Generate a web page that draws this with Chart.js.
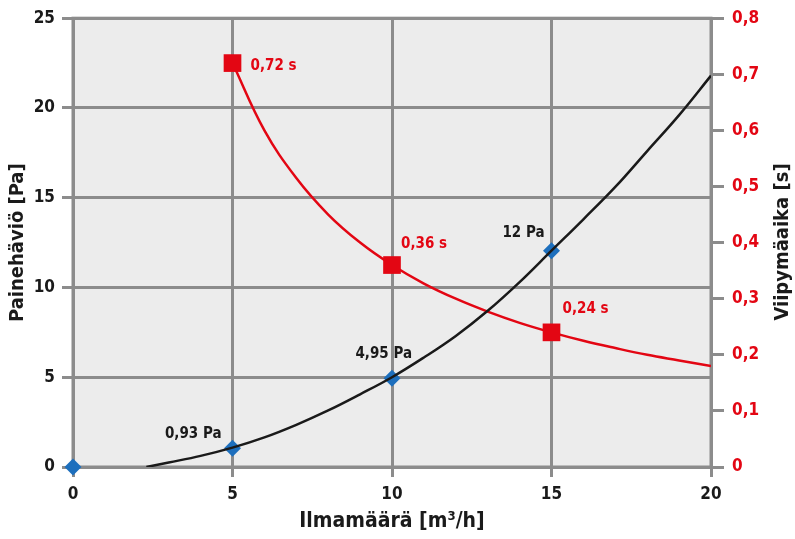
<!DOCTYPE html>
<html>
<head>
<meta charset="utf-8">
<script src="https://cdn.jsdelivr.net/npm/chart.js@4"></script>
<style>
  html, body { margin: 0; padding: 0; background: #fff; }
  #wrap { width: 795px; height: 539px; }
</style>
</head>
<body>
<div id="wrap"><canvas id="kaavio" width="795" height="539"></canvas></div>
<script>
// mitatut pisteet
const ilmaPisteet = [0, 5, 10, 15];
const paineArvot = [0, 1.05, 4.95, 12.05];
const paineTekstit = ['', '0,93 Pa', '4,95 Pa', '12 Pa'];

const aikaPisteet = [5, 10, 15];
const aikaArvot = [0.72, 0.36, 0.24];
const aikaTekstit = ['0,72 s', '0,36 s', '0,24 s'];

// trendikäyrät kuvasta luettuna
const paineKayraX = [2.3, 3, 4, 5, 6, 7, 8, 9, 10, 11, 12, 13, 14, 15, 16, 17, 18, 19, 20];
const paineKayraY = [0, 0.25, 0.62, 1.08, 1.65, 2.35, 3.15, 4.05, 5.0, 6.1, 7.3, 8.7, 10.3, 12.05, 13.8, 15.6, 17.6, 19.6, 21.8];
const aikaKayraX = [5, 6, 7, 8, 9, 10, 11, 12, 13, 14, 15, 16, 17, 18, 19, 20];
const aikaKayraY = [0.72, 0.6, 0.515, 0.45, 0.4, 0.36, 0.327, 0.3, 0.277, 0.257, 0.24, 0.225, 0.212, 0.2, 0.19, 0.18];

const xTicks = [0, 5, 10, 15, 20];

const PUNAINEN = '#e30613';
const SININEN = '#1d6fbd';
const MUSTA = '#1a1a1a';
const HARMAA = '#8c8c8c';
const FONTTI = "'Liberation Sans Narrow', 'DejaVu Sans Condensed', 'Roboto', sans-serif";

function pareiksi(xs, ys) {
    return xs.map((x, i) => ({ x: x, y: ys[i] }));
}

const taustaPlugin = {
    id: 'tausta',
    beforeDraw(chart) {
        const { ctx, chartArea: a } = chart;
        ctx.save();
        ctx.fillStyle = '#ececec';
        ctx.fillRect(a.left, a.top, a.right - a.left, a.bottom - a.top);
        ctx.restore();
    },
    beforeDatasetsDraw(chart) {
        const { ctx, chartArea: a } = chart;
        ctx.save();
        ctx.strokeStyle = HARMAA;
        ctx.lineWidth = 3;
        ctx.strokeRect(a.left, a.top, a.right - a.left, a.bottom - a.top);
        ctx.restore();
    },
    afterDraw(chart) {
        const ctx = chart.ctx;
        // oikean akselin otsikko, luetaan alhaalta ylös
        ctx.save();
        ctx.translate(783, 242);
        ctx.rotate(-Math.PI / 2);
        ctx.fillStyle = MUSTA;
        ctx.font = "bold 20px " + FONTTI;
        ctx.textAlign = 'center';
        ctx.textBaseline = 'middle';
        ctx.fillText('Viipymäaika [s]', 0, 0);
        ctx.restore();

        // arvojen tekstit
        const siirrotP = [[0, 0], [-11, -14], [20, -24], [-7, -18]];
        const metaP = chart.getDatasetMeta(1);
        ctx.save();
        ctx.font = "bold 15px " + FONTTI;
        ctx.fillStyle = MUSTA;
        ctx.textAlign = 'right';
        ctx.textBaseline = 'middle';
        metaP.data.forEach((p, i) => {
            if (paineTekstit[i]) ctx.fillText(paineTekstit[i], p.x + siirrotP[i][0], p.y + siirrotP[i][1]);
        });
        const siirrotA = [[18, 3], [9, -21], [11, -23]];
        const metaA = chart.getDatasetMeta(2);
        ctx.fillStyle = PUNAINEN;
        ctx.textAlign = 'left';
        metaA.data.forEach((p, i) => {
            ctx.fillText(aikaTekstit[i], p.x + siirrotA[i][0], p.y + siirrotA[i][1]);
        });
        ctx.restore();
    }
};

const ctxKaavio = document.getElementById('kaavio').getContext('2d');
const kaavio = new Chart(ctxKaavio, {
    type: 'scatter',
    data: {
        datasets: [{
            label: 'Painehäviö käyrä',
            data: pareiksi(paineKayraX, paineKayraY),
            showLine: true,
            borderColor: MUSTA,
            borderWidth: 2.5,
            pointRadius: 0,
            tension: 0.4,
            yAxisID: 'y',
            order: 0
        }, {
            label: 'Painehäviö',
            data: pareiksi(ilmaPisteet, paineArvot),
            showLine: false,
            pointStyle: 'rectRot',
            pointRadius: 8.5,
            backgroundColor: SININEN,
            borderColor: SININEN,
            borderWidth: 0,
            clip: false,
            yAxisID: 'y',
            order: 1
        }, {
            label: 'Viipymäaika',
            data: pareiksi(aikaPisteet, aikaArvot),
            showLine: false,
            pointStyle: 'rect',
            pointRadius: 12.5,
            backgroundColor: PUNAINEN,
            borderColor: PUNAINEN,
            borderWidth: 0,
            clip: false,
            yAxisID: 'y2',
            order: 2
        }, {
            label: 'Viipymäaika käyrä',
            data: pareiksi(aikaKayraX, aikaKayraY),
            showLine: true,
            borderColor: PUNAINEN,
            borderWidth: 2.5,
            pointRadius: 0,
            tension: 0.4,
            yAxisID: 'y2',
            order: 3
        }]
    },
    options: {
        responsive: false,
        animation: false,
        devicePixelRatio: 1,
        layout: { padding: { top: 17, left: 0, right: 0, bottom: 0 } },
        scales: {
            x: {
                type: 'linear',
                min: 0,
                max: 20,
                afterBuildTicks: (s) => { s.ticks = xTicks.map(v => ({ value: v })); },
                afterFit: (s) => { s.height = 72; },
                grid: { color: HARMAA, lineWidth: 3, tickLength: 10, tickColor: HARMAA },
                border: { display: false },
                ticks: {
                    color: MUSTA,
                    padding: 7,
                    font: { family: FONTTI, size: 17, weight: 'bold' }
                },
                title: {
                    display: true,
                    text: 'Ilmamäärä [m³/h]',
                    color: MUSTA,
                    padding: { top: 0, bottom: 5 },
                    font: { family: FONTTI, size: 21, weight: 'bold' }
                }
            },
            y: {
                position: 'left',
                min: 0,
                max: 25,
                ticks: {
                    stepSize: 5,
                    color: MUSTA,
                    padding: 7,
                    font: { family: FONTTI, size: 17, weight: 'bold' }
                },
                afterFit: (s) => { s.width = 73; },
                grid: { color: HARMAA, lineWidth: 3, tickLength: 11, tickColor: HARMAA },
                border: { display: false },
                title: {
                    display: true,
                    text: 'Painehäviö [Pa]',
                    color: MUSTA,
                    padding: { top: 6, bottom: 0 },
                    font: { family: FONTTI, size: 20, weight: 'bold' }
                }
            },
            y2: {
                position: 'right',
                min: 0,
                max: 0.8,
                ticks: {
                    stepSize: 0.1,
                    color: PUNAINEN,
                    padding: 8,
                    font: { family: FONTTI, size: 17, weight: 'bold' },
                    callback: (v) => v === 0 ? '0' : v.toFixed(1).replace('.', ',')
                },
                afterFit: (s) => { s.width = 84; },
                grid: { drawOnChartArea: false, color: HARMAA, lineWidth: 3, tickLength: 13, tickColor: HARMAA },
                border: { display: false }
            }
        },
        plugins: {
            legend: { display: false },
            tooltip: { enabled: false }
        }
    },
    plugins: [taustaPlugin]
});
</script>
</body>
</html>
